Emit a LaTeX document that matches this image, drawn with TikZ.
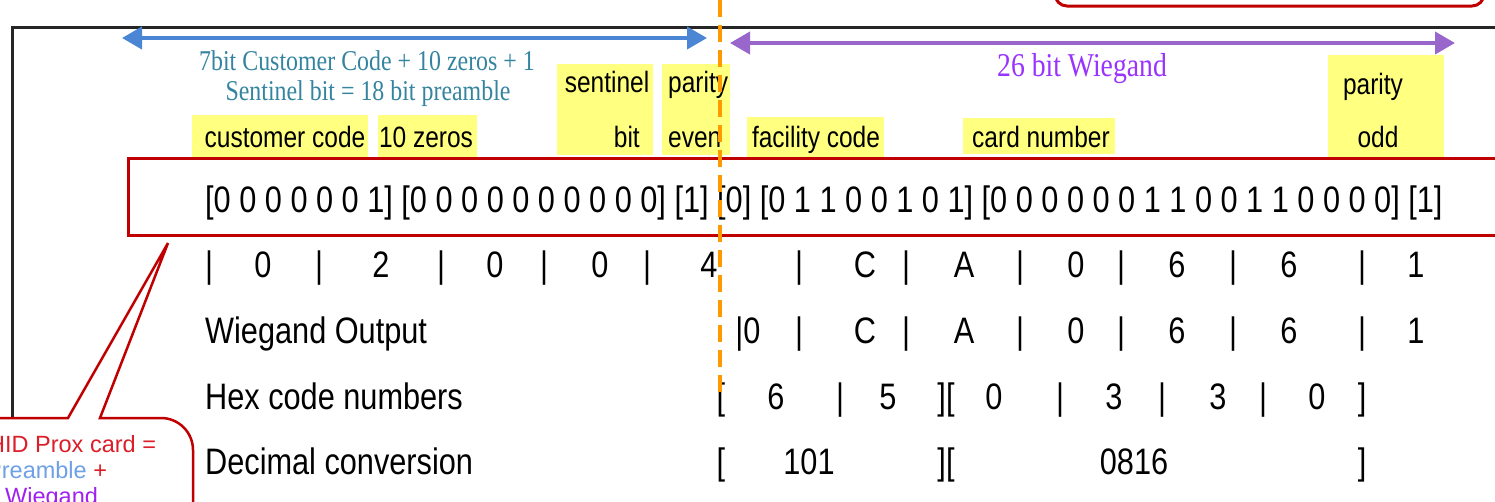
\documentclass[tikz,border=0pt]{standalone}
\usepackage{fontspec}
\newfontfamily\arialf{Liberation Sans}
\newfontfamily\timesf{Liberation Serif}
\usetikzlibrary{arrows.meta}
\definecolor{preblue}{RGB}{74,134,212}
\definecolor{wiegpurple}{RGB}{153,102,204}
\definecolor{pretext}{RGB}{52,132,160}
\definecolor{wiegtext}{RGB}{153,51,255}
\definecolor{hlyellow}{RGB}{255,255,128}
\definecolor{boxred}{RGB}{192,0,0}
\definecolor{callred}{RGB}{220,30,40}
\definecolor{calllblue}{RGB}{110,160,230}
\definecolor{callpurple}{RGB}{160,32,240}
\definecolor{cutorange}{RGB}{255,153,0}
\def\tall#1{\scalebox{1}[1.2]{#1}}
\tikzset{
  bitrow/.style={anchor=base, inner sep=0pt, font=\arialf\fontsize{30.7}{36}\selectfont},
  lbl/.style={anchor=base, inner sep=0pt, font=\arialf\fontsize{24.5}{28}\selectfont},
  calltext/.style={anchor=base west, inner sep=0pt, font=\arialf\fontsize{23.5}{28}\selectfont},
  hl/.style={fill=hlyellow},
  spanarrow/.style={line width=4pt, {Triangle[width=22pt,length=20pt]}-{Triangle[width=22pt,length=20pt]}},
}

\begin{document}
\begin{tikzpicture}[x=1pt,y=-1pt]
			%%%%% START %%%%%
			\useasboundingbox (0,0) rectangle (1495,501);
			\clip (0,0) rectangle (1495,501);
			
			% frame and the box above
			\draw[line width=3pt, black!85] (12,418) -- (12,27) -- (1510,27);
			\draw[line width=3pt, boxred, rounded corners=12] (1055,-60) rectangle (1484,6);
			
			% spans
			\draw[spanarrow, preblue] (122,38) -- (707,38);
			\draw[spanarrow, wiegpurple] (730,43) -- (1455,43);
			\node[anchor=base, inner sep=0pt, text=pretext, font=\timesf\fontsize{23.9}{28}\selectfont] (pre1) at (367,70) {\tall{7bit Customer Code + 10 zeros + 1}};
			\node[anchor=base, inner sep=0pt, text=pretext, font=\timesf\fontsize{23.9}{28}\selectfont] (pre2) at (368,100) {\tall{Sentinel bit = 18 bit preamble}};
			\node[anchor=base, inner sep=0pt, text=wiegtext, font=\timesf\fontsize{27.7}{32}\selectfont] (wieg) at (1082,76) {\tall{26 bit Wiegand}};
			
			% field names
			\fill[hl] (192,115) rectangle (368,157);
			\fill[hl] (378,115) rectangle (477,157);
			\fill[hl] (557,64) rectangle (653,155);
			\fill[hl] (662,64) rectangle (730,155);
			\fill[hl] (747,117) rectangle (884,157);
			\fill[hl] (963,118) rectangle (1115,154);
			\fill[hl] (1328,55) rectangle (1444,158);
			\node[lbl] (cust) at (285,147) {\tall{customer code}};
			\node[lbl] (zeros) at (426,147) {\tall{10 zeros}};
			\node[lbl] (sent) at (607,92) {\tall{sentinel}};
			\node[lbl, anchor=base east] (sentb) at (640,147) {\tall{bit}};
			\node[lbl, anchor=base west] (pare) at (668,92) {\tall{parity}};
			\node[lbl, anchor=base west] (pareb) at (668,147) {\tall{even}};
			\node[lbl] (fac) at (816,147) {\tall{facility code}};
			\node[lbl] (card) at (1041,147) {\tall{card number}};
			\node[lbl] (paro) at (1373,94) {\tall{parity}};
			\node[lbl] (parob) at (1378,147) {\tall{odd}};
			
			% bits
			\draw[line width=3pt, boxred] (1510,158) -- (128,158) -- (128,235) -- (1510,235);
			\node[bitrow, anchor=base west] (bits) at (205,212) {\tall{[0 0 0 0 0 0 1] [0 0 0 0 0 0 0 0 0 0] [1] [0] [0 1 1 0 0 1 0 1] [0 0 0 0 0 0 1 1 0 0 1 1 0 0 0 0] [1]}};
			
			% nibbles
			\foreach \x/\t [count=\i] in {209/|,263/0,319/|,381/2,441/|,495/0,544/|,600/0,647/|,709/4,799/|,865/C,906/|,964/A,1020/|,1076/0,1121/|,1177/6,1233/|,1289/6,1362/|,1416/1}
				\node[bitrow] (nib-\i) at (\x,277) {\tall{\t}};
			
			\node[bitrow, anchor=base west] (wout) at (205,343) {\tall{Wiegand Output}};
			\foreach \x/\t [count=\i] in {748/|0,799/|,865/C,906/|,964/A,1020/|,1076/0,1121/|,1177/6,1233/|,1289/6,1362/|,1416/1}
				\node[bitrow] (wo-\i) at (\x,343) {\tall{\t}};
			
			\node[bitrow, anchor=base west] (hexl) at (205,409) {\tall{Hex code numbers}};
			\foreach \x/\t [count=\i] in {721/[,776/6,840/|,888/5,946/{][},994/0,1060/|,1114/3,1162/|,1218/3,1263/|,1317/0,1362/]}
				\node[bitrow] (hx-\i) at (\x,409) {\tall{\t}};
			
			\node[bitrow, anchor=base west] (decl) at (205,474) {\tall{Decimal conversion}};
			\foreach \x/\t [count=\i] in {721/[,809/101,946/{][},1134/0816,1362/]}
				\node[bitrow] (dc-\i) at (\x,474) {\tall{\t}};
			
			% callout
			\draw[line width=2.5pt, boxred, fill=white] (-40,418) -- (68,418) -- (168,243) -- (100,418) -- (161,418) arc[start angle=-90, end angle=0, radius=32] -- (193,560) -- (-40,560) -- cycle;
			\node[calltext, text=callred] (call1) at (-12,452) {HID Prox card =};
			\node[calltext] (call2) at (-14,478) {\textcolor{calllblue}{Preamble} \textcolor{callred}{+}};
			\node[calltext, text=callpurple] (call3) at (5,504) {Wiegand};
			
			% split
			\draw[line width=4pt, cutorange, dash pattern=on 17pt off 8pt] (720,0) -- (720,395);
			
			%%%%% END %%%%%
		\end{tikzpicture}
\end{document}
